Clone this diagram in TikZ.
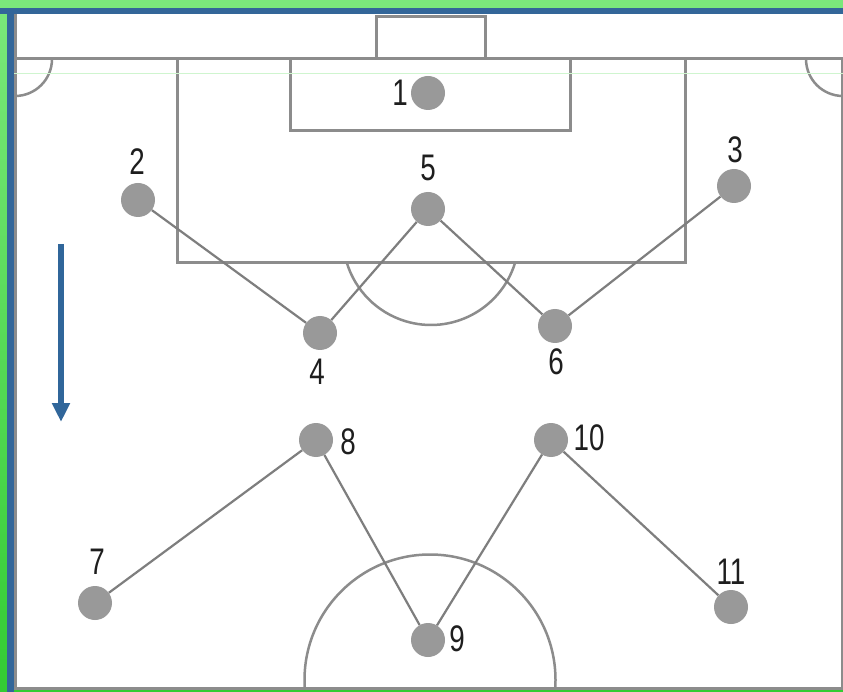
\documentclass[tikz,border=0pt]{standalone}
\usepackage{fontspec}
\setmainfont{Liberation Sans}
\newfontfamily\lblfont[FakeStretch=0.75]{Liberation Sans}
\usetikzlibrary{arrows.meta}
\definecolor{gLight}{HTML}{7BE87B}
\definecolor{gDark}{HTML}{33CC33}
\definecolor{bandblue}{HTML}{336699}
\definecolor{arrowblue}{HTML}{30669A}
\definecolor{pline}{HTML}{8C8C8C}
\definecolor{cline}{HTML}{7E7E7E}
\definecolor{dotgrey}{HTML}{999999}
\definecolor{lbl}{HTML}{1E1E1E}
\definecolor{faint}{HTML}{CFF5CF}
\tikzset{
  pitch/.style={draw=pline, line width=3pt},
  link/.style={draw=cline, line width=2.2pt},
  player/.style={circle, fill=dotgrey, minimum size=34pt, inner sep=0pt},
  num/.style={text=lbl, inner sep=0pt, font=\lblfont\fontsize{37}{37}\selectfont},
}
\begin{document}
\begin{tikzpicture}[x=1pt,y=-1pt]
\useasboundingbox (0,0) rectangle (843,692);
% frame
\fill[gDark] (0,0) rectangle (843,692);
\shade[top color=gLight, bottom color=gDark] (0,0) rectangle (7,692);
\fill[gLight] (0,0) rectangle (843,8);
\fill[bandblue] (0,8) rectangle (843,14);
\fill[bandblue] (7,8) rectangle (14,692);
\fill[white] (14,14) rectangle (843,690);
% pitch boundary
\draw[pitch] (15.5,14) -- (15.5,688) -- (843,688);
\draw[pitch] (842,59) -- (842,688);
\draw[pitch] (14,59) -- (843,59);
% goal
\draw[pitch] (376,59) -- (376,17) -- (485,17) -- (485,59);
% penalty area and goal area
\draw[pitch] (177,59) -- (177,263) -- (685,263) -- (685,59);
\draw[pitch] (290,59) -- (290,131) -- (570,131) -- (570,59);
% corner arcs
\draw[pitch, line width=2.5pt] (52,59) arc[start angle=0, end angle=90, radius=37];
\draw[pitch, line width=2.5pt] (806,59) arc[start angle=180, end angle=90, radius=37];
% penalty arc
\draw[pitch, line width=2.5pt] (515,263) arc[start angle=17.2, end angle=162.8, radius=88];
% centre circle
\begin{scope}
\clip (14,14) rectangle (843,688);
\draw[pitch, line width=2.5pt] (430,680) circle[radius=125.5];
\end{scope}
% players
\node[player] (p1) at (428,93) {};
\node[player] (p2) at (138,200) {};
\node[player] (p3) at (734,186) {};
\node[player] (p4) at (320,333) {};
\node[player] (p5) at (428,209) {};
\node[player] (p6) at (555,326) {};
\node[player] (p7) at (95,603) {};
\node[player] (p8) at (316,440) {};
\node[player] (p9) at (428,640) {};
\node[player] (p10) at (551,440) {};
\node[player] (p11) at (731,607) {};
% links
\draw[link] (p2) -- (p4);
\draw[link] (p4) -- (p5);
\draw[link] (p5) -- (p6);
\draw[link] (p6) -- (p3);
\draw[link] (p7) -- (p8);
\draw[link] (p8) -- (p9);
\draw[link] (p9) -- (p10);
\draw[link] (p10) -- (p11);
% labels
\node[num] (l1) at (400,93) {1};
\node[num] (l2) at (137,162) {2};
\node[num] (l3) at (735,150) {3};
\node[num] (l4) at (317,372) {4};
\node[num] (l5) at (428,168) {5};
\node[num] (l6) at (556,362) {6};
\node[num] (l7) at (97,562) {7};
\node[num] (l8) at (348,442) {8};
\node[num] (l9) at (457,639) {9};
\node[num] (l10) at (589,438) {10};
\node[num] (l11) at (731,572) {11};
% arrow
\coordinate (a1) at (61,244);
\coordinate (a2) at (61,422);
\draw[arrowblue, line width=6pt, -{Triangle[width=17pt,length=19pt]}] (a1) -- (a2);
% faint line
\draw[faint, line width=1pt] (14,74) -- (843,74);
\end{tikzpicture}
\end{document}
